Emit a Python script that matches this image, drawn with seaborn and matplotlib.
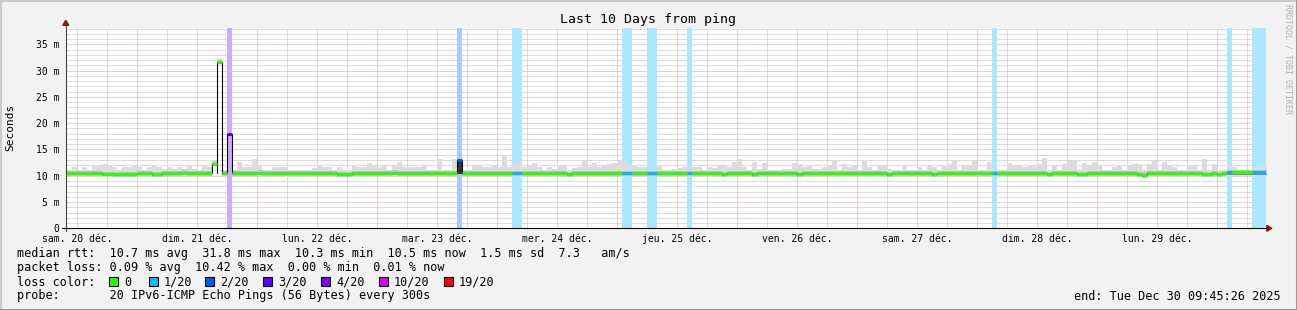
import numpy as np
import pandas as pd
import matplotlib
matplotlib.use("Agg")
import matplotlib.pyplot as plt
import seaborn as sns
from matplotlib.colors import to_rgb
from matplotlib.patches import Rectangle, Polygon
from matplotlib.lines import Line2D

# ---------------- data (hourly bins, hours since Sat 20 Dec 00:00) ----------------
first_hour = 9                      # first hourly bin starts 20 Dec 09:00
start_h = 9 + 45 / 60 + 26 / 3600   # window start 20 Dec 09:45:26
end_h = start_h + 240               # window end 30 Dec 09:45:26

smoke_max = [
    11.1, 11.1, 11.6, 11.1, 11.6, 11.1, 11.9, 11.9, 12.3, 11.9,
    11.6, 11.1, 11.6, 11.6, 11.9, 11.6, 11.1, 11.6, 12.1, 11.6,
    11.3, 11.6, 11.3, 11.6, 11.3, 11.9, 11.3, 11.1, 12.1, 11.6,
    12.8, 32.4, 11.1, 18.4, 11.1, 12.6, 11.6, 11.6, 13.2, 12.1,
    11.1, 11.1, 11.6, 11.6, 11.6, 11.1, 11.1, 11.1, 11.1, 11.1,
    11.5, 12.1, 11.6, 11.6, 11.1, 11.6, 11.1, 11.1, 11.8, 11.6,
    11.6, 12.5, 12.1, 11.6, 12.1, 11.1, 12.1, 12.7, 11.6, 11.6,
    11.6, 11.6, 11.8, 11.1, 11.1, 13.2, 11.1, 11.1, 13.2, 13.3,
    11.1, 11.1, 12.1, 12.1, 11.6, 11.6, 12.1, 11.6, 14.0, 11.6,
    12.1, 12.7, 11.6, 11.9, 12.5, 11.6, 11.1, 11.6, 11.3, 12.1,
    12.0, 11.1, 11.4, 11.6, 12.8, 11.6, 12.5, 11.6, 12.1, 12.3,
    12.5, 12.8, 12.8, 12.1, 12.1, 11.6, 11.6, 11.1, 11.1, 12.1,
    11.1, 11.1, 11.3, 11.5, 11.6, 11.6, 11.6, 11.6, 11.1, 11.6,
    11.4, 12.1, 12.1, 11.6, 12.6, 13.2, 11.6, 11.1, 12.6, 11.3,
    12.5, 11.1, 11.1, 11.1, 11.3, 11.3, 12.5, 12.3, 11.6, 12.1,
    11.3, 11.3, 11.6, 12.1, 12.9, 11.1, 12.3, 11.6, 12.1, 11.1,
    13.0, 11.6, 11.1, 11.8, 11.8, 11.3, 11.1, 11.1, 11.9, 11.1,
    11.1, 11.6, 11.1, 11.9, 11.6, 11.1, 12.1, 12.3, 12.9, 11.1,
    11.8, 12.1, 12.9, 11.1, 11.1, 12.7, 11.1, 11.1, 11.1, 12.5,
    12.1, 12.1, 11.6, 12.1, 12.1, 12.3, 13.4, 11.1, 11.8, 11.1,
    12.3, 12.8, 12.8, 11.1, 12.4, 12.1, 12.7, 12.1, 11.1, 11.1,
    11.6, 12.1, 11.1, 12.1, 12.3, 12.3, 11.1, 12.3, 12.9, 11.1,
    12.6, 11.9, 11.6, 11.1, 11.1, 12.1, 12.1, 11.1, 13.2, 11.1,
    12.3, 11.1, 11.1, 12.1, 11.6, 11.1, 11.1, 11.1, 11.6, 11.6, 11.9,
]

smoke_min = [
    9.95, 9.95, 9.95, 9.95, 9.95, 9.95, 9.95, 9.95, 9.95, 9.95,
    9.7, 9.7, 9.7, 9.7, 9.7, 9.95, 9.95, 9.95, 9.85, 9.85,
    9.95, 9.95, 9.95, 9.95, 9.95, 9.95, 9.95, 9.95, 9.95, 9.95,
    12.1, 31.5, 9.95, 17.8, 9.95, 9.95, 9.95, 9.95, 9.95, 9.95,
    9.95, 9.95, 9.95, 9.95, 9.95, 9.8, 9.95, 9.95, 9.95, 9.95,
    9.95, 9.95, 9.95, 9.95, 9.95, 9.7, 9.85, 9.85, 9.95, 9.7,
    9.95, 9.7, 9.95, 9.95, 9.95, 9.95, 9.95, 9.95, 9.95, 9.95,
    9.95, 9.95, 9.95, 9.95, 9.95, 9.95, 9.95, 9.95, 9.95, 10.4,
    9.95, 9.95, 9.95, 9.95, 9.95, 9.95, 9.95, 9.95, 9.95, 9.95,
    9.95, 9.95, 9.95, 9.95, 9.95, 9.95, 9.95, 9.95, 9.7, 9.95,
    9.95, 9.7, 9.95, 9.95, 9.95, 9.95, 9.95, 9.95, 9.95, 9.95,
    9.7, 9.95, 9.95, 9.95, 9.95, 9.95, 9.95, 9.95, 9.95, 9.95,
    9.95, 9.95, 9.95, 9.95, 9.95, 9.95, 9.95, 9.95, 9.7, 9.95,
    9.95, 9.95, 9.85, 9.7, 9.95, 9.95, 9.95, 9.95, 9.75, 9.95,
    9.95, 9.95, 9.95, 9.95, 9.95, 9.95, 9.7, 9.8, 9.95, 9.95,
    9.95, 9.95, 9.95, 9.95, 9.95, 9.7, 9.7, 9.7, 9.95, 9.95,
    9.95, 9.95, 9.7, 9.95, 9.95, 9.85, 9.95, 9.95, 9.95, 9.95,
    9.95, 9.95, 9.95, 9.95, 9.8, 9.95, 9.95, 9.95, 9.95, 9.95,
    9.95, 9.95, 9.95, 9.95, 9.95, 9.95, 9.95, 9.95, 9.95, 9.95,
    9.95, 9.95, 9.95, 9.95, 9.95, 9.95, 9.95, 9.8, 9.7, 9.95,
    9.95, 9.95, 9.95, 9.7, 9.7, 9.95, 9.95, 9.95, 9.95, 9.95,
    9.95, 9.95, 9.95, 9.95, 9.95, 9.85, 9.6, 9.95, 9.95, 9.95,
    9.95, 9.7, 9.95, 9.95, 9.95, 9.95, 9.95, 9.85, 9.75, 9.75,
    9.95, 9.8, 9.95, 9.95, 9.95, 9.95, 9.95, 9.95, 9.95, 9.95, 9.95,
]

median_rtt = [
    10.55, 10.55, 10.55, 10.55, 10.55, 10.55, 10.55, 10.55, 10.35, 10.35,
    10.35, 10.35, 10.35, 10.35, 10.35, 10.55, 10.55, 10.55, 10.35, 10.35,
    10.55, 10.55, 10.55, 10.55, 10.6, 10.55, 10.55, 10.55, 10.55, 10.55,
    12.3, 31.65, 10.55, 18.0, 10.55, 10.55, 10.55, 10.55, 10.55, 10.6,
    10.55, 10.55, 10.55, 10.55, 10.55, 10.55, 10.55, 10.55, 10.55, 10.55,
    10.55, 10.55, 10.55, 10.55, 10.55, 10.35, 10.35, 10.35, 10.55, 10.55,
    10.55, 10.55, 10.55, 10.55, 10.55, 10.55, 10.6, 10.55, 10.55, 10.55,
    10.55, 10.55, 10.55, 10.55, 10.55, 10.55, 10.55, 10.55, 10.55, 13.0,
    10.55, 10.55, 10.55, 10.55, 10.55, 10.55, 10.55, 10.55, 10.55, 10.55,
    10.55, 10.55, 10.55, 10.55, 10.55, 10.55, 10.55, 10.55, 10.55, 10.55,
    10.55, 10.35, 10.55, 10.55, 10.55, 10.55, 10.55, 10.55, 10.55, 10.55,
    10.55, 10.55, 10.55, 10.55, 10.55, 10.55, 10.55, 10.55, 10.55, 10.55,
    10.55, 10.55, 10.55, 10.55, 10.55, 10.55, 10.55, 10.55, 10.55, 10.55,
    10.55, 10.55, 10.35, 10.55, 10.55, 10.55, 10.55, 10.55, 10.35, 10.55,
    10.55, 10.55, 10.55, 10.55, 10.55, 10.55, 10.55, 10.35, 10.55, 10.55,
    10.55, 10.55, 10.55, 10.55, 10.55, 10.55, 10.55, 10.55, 10.55, 10.55,
    10.55, 10.55, 10.55, 10.55, 10.55, 10.35, 10.55, 10.55, 10.55, 10.55,
    10.55, 10.55, 10.55, 10.55, 10.35, 10.55, 10.55, 10.55, 10.55, 10.55,
    10.55, 10.55, 10.55, 10.55, 10.55, 10.55, 10.55, 10.55, 10.55, 10.55,
    10.55, 10.55, 10.55, 10.55, 10.55, 10.55, 10.55, 10.35, 10.55, 10.55,
    10.55, 10.55, 10.55, 10.35, 10.35, 10.55, 10.55, 10.55, 10.55, 10.55,
    10.55, 10.55, 10.55, 10.55, 10.55, 10.35, 10.2, 10.55, 10.55, 10.55,
    10.55, 10.55, 10.55, 10.55, 10.55, 10.55, 10.55, 10.55, 10.35, 10.35,
    10.55, 10.35, 10.55, 10.65, 10.65, 10.65, 10.65, 10.65, 10.65, 10.65, 10.65,
]

# hourly bins that lost pings (hour index, lost pings out of 20)
loss_hours = [42, 88, 99, 100, 121, 122, 126, 127, 134, 195, 242, 247, 248, 249]
loss_counts = [3, 2, 1, 1, 1, 1, 1, 1, 1, 1, 1, 1, 1, 1]
dense_hours = [88]   # bins whose pings are all packed between the floor and the median

loss_levels = [0, 1, 2, 3, 4, 10, 19]
loss_labels = ["0", "1/20", "2/20", "3/20", "4/20", "10/20", "19/20"]
loss_palette = ["#26ff00", "#00b8ff", "#0059ff", "#5e00ff", "#7e00ff", "#dd00ff", "#ff0000"]

day_labels = ["sam. 20 déc.", "dim. 21 déc.", "lun. 22 déc.", "mar. 23 déc.", "mer. 24 déc.",
              "jeu. 25 déc.", "ven. 26 déc.", "sam. 27 déc.", "dim. 28 déc.", "lun. 29 déc."]
y_ticks = [0, 5, 10, 15, 20, 25, 30, 35]
y_tick_labels = ["0", "5 m", "10 m", "15 m", "20 m", "25 m", "30 m", "35 m"]

title = "Last 10 Days from ping"
legend_rows = [
    "median rtt:  10.7 ms avg  31.8 ms max  10.3 ms min  10.5 ms now  1.5 ms sd  7.3   am/s",
    "packet loss: 0.09 % avg  10.42 % max  0.00 % min  0.01 % now",
    "loss color:",
    "probe:       20 IPv6-ICMP Echo Pings (56 Bytes) every 300s",
]
end_text = "end: Tue Dec 30 09:45:26 2025"

# ---------------- assemble ----------------
n = len(median_rtt)
hours = np.arange(first_hour, first_hour + n)
df = pd.DataFrame({"hour": hours, "median": median_rtt, "smin": smoke_min, "smax": smoke_max})
loss_map = dict(zip(loss_hours, loss_counts))
df["loss"] = [loss_map.get(h, 0) for h in df["hour"]]
color_of = dict(zip(loss_levels, loss_palette))

edges = np.append(df["hour"].values, df["hour"].values[-1] + 1)
def ext(a):
    a = np.asarray(a, dtype=float)
    return np.append(a, a[-1])

# runs of equal median + equal loss colour -> one seamless segment each
runs, run_cols = [], {}
rid = -1
prev = None
for h, m, l in zip(df["hour"], df["median"], df["loss"]):
    key = (m, l)
    if key != prev:
        rid += 1
        run_cols[rid] = color_of[l]
        runs.append({"run": rid, "x": h, "y": m})
        prev = key
    runs.append({"run": rid, "x": h + 1, "y": m})
runs_df = pd.DataFrame(runs)

# ---------------- figure ----------------
sns.set_theme(style="white")
plt.rcParams["font.family"] = ["DejaVu Sans Mono", "DejaVu Sans"]

W, H = 1297, 310
BG = "#f2f2f2"
fig = plt.figure(figsize=(W / 100, H / 100), dpi=100, facecolor=BG)

def fx(x):
    return x / W
def fy(y):
    return 1 - y / H

L, R, T, B = 65.8, 1265.8, 28.3, 228.3
ax = fig.add_axes([fx(L), fy(B), (R - L) / W, (B - T) / H])
ax.set_facecolor("white")
ax.set_xlim(start_h, end_h)
ax.set_ylim(0, (B - T) / 5.257)
for s in ax.spines.values():
    s.set_visible(False)

# grid
minor_c, major_c = "#bdbdbd", "#dc9c9c"
dot = (0, (1, 1))
for v in range(1, 39):
    if v % 5:
        ax.axhline(v, color=minor_c, lw=0.72, ls=dot, zorder=0.5)
for v in range(5, 39, 5):
    ax.axhline(v, color=major_c, lw=0.72, ls=dot, zorder=0.6)
for h in range(12, 250, 6):
    if h % 24:
        ax.axvline(h, color=minor_c, lw=0.72, ls=dot, zorder=0.5)
for h in range(24, 250, 24):
    ax.axvline(h, color=major_c, lw=0.72, ls=dot, zorder=0.6)

# loss background bands
def soft(c, a=0.33):
    r, g, b = to_rgb(c)
    return (1 - a + a * r, 1 - a + a * g, 1 - a + a * b)
for h, cnt in zip(loss_hours, loss_counts):
    ax.axvspan(h, h + 1, color=soft(color_of[cnt]), lw=0, zorder=1)

# smoke
med = df["median"].values
smin = df["smin"].values
smax = df["smax"].values
ax.fill_between(edges, ext(smin), ext(smax), step="post", color="#dcdcdc", lw=0, zorder=2)
mid_lo = np.clip(med - 0.55, smin, smax)
mid_hi = np.clip(med + 0.42, smin, smax)
ax.fill_between(edges, ext(mid_lo), ext(mid_hi), step="post", color="#c2c2c2", lw=0, zorder=2.2)
dk_lo = np.clip(med - 0.45, smin, smax)
dk_hi = np.clip(med - 0.28, smin, smax)
ax.fill_between(edges, ext(dk_lo), ext(dk_hi), step="post", color="#8a8a8a", lw=0, zorder=2.4)
for h in dense_hours:
    row = df[df["hour"] == h].iloc[0]
    ax.fill_between([h, h + 1], row["smin"], row["median"], color="#333333", lw=0, zorder=2.6)

# black connectors where the median changes (spikes outlined down to the neighbour level)
for i in range(1, n):
    if med[i] != med[i - 1]:
        ax.vlines(hours[i], min(med[i], med[i - 1]), max(med[i], med[i - 1]),
                  colors="black", lw=0.75, zorder=4)
for i in range(1, n - 1):
    if med[i] > 11.5:
        base = min(med[i - 1], med[i + 1])
        ax.vlines([hours[i], hours[i] + 1], base, med[i], colors="black", lw=0.75, zorder=4)

# median line, coloured by loss
sns.lineplot(data=runs_df, x="x", y="y", units="run", hue="run", palette=run_cols,
             estimator=None, legend=False, linewidth=2.2, ax=ax, zorder=5,
             solid_capstyle="butt")

# ticks
ax.set_xticks(np.arange(12, 240, 24))
ax.set_xticklabels(day_labels, fontsize=7)
ax.set_yticks(y_ticks)
ax.set_yticklabels(y_tick_labels, fontsize=7)
ax.tick_params(axis="both", length=0, colors="black")
ax.tick_params(axis="x", pad=4)
ax.tick_params(axis="y", pad=4.5)
ax.set_xlabel("")
ax.set_ylabel("")
ax.set_xlim(start_h, end_h)
ax.set_ylim(0, (B - T) / 5.257)

# axes lines and arrows
fig.lines.append(Line2D([fx(L), fx(L)], [fy(B + 3), fy(T - 4)], color="#444444", lw=0.8,
                        transform=fig.transFigure))
fig.lines.append(Line2D([fx(L - 4), fx(R + 2)], [fy(B), fy(B)], color="black", lw=0.8,
                        transform=fig.transFigure))
arrow_c = "#8b1a1a"
fig.patches.append(Polygon([(fx(L - 3), fy(T - 3)), (fx(L + 3), fy(T - 3)), (fx(L), fy(T - 8))],
                           closed=True, color=arrow_c, transform=fig.transFigure))
fig.patches.append(Polygon([(fx(R + 1), fy(B - 3)), (fx(R + 1), fy(B + 3)), (fx(R + 6), fy(B))],
                           closed=True, color=arrow_c, transform=fig.transFigure))

# texts
fig.text(fx(648), fy(19), title, ha="center", va="center", fontsize=9.5, color="black")
fig.text(fx(10), fy(127), "Seconds", ha="center", va="center", rotation=90, fontsize=8,
         color="black")
fig.text(fx(1288), fy(4), "RRDTOOL / TOBI OETIKER", ha="center", va="top", rotation=270,
         fontsize=6.0, color="#b0b0b0")

row_y = [254, 268, 282, 296]
for txt, yy in zip(legend_rows, row_y):
    fig.text(fx(17), fy(yy), txt, ha="left", va="center", fontsize=8.5, color="black")
fig.text(fx(1281), fy(296), end_text, ha="right", va="center", fontsize=8.5, color="black")

box_x = [109, 149, 205, 263, 321, 379, 444]
for bx, lab, col in zip(box_x, loss_labels, loss_palette):
    fig.patches.append(Rectangle((fx(bx), fy(286)), 9 / W, 9 / H, facecolor=col,
                                 edgecolor="black", lw=0.8, transform=fig.transFigure))
    fig.text(fx(bx + 15), fy(282), lab, ha="left", va="center", fontsize=8.5, color="black")

# 3D frame
fig.lines.append(Line2D([0, 1], [fy(0.5), fy(0.5)], color="#cbcbcb", lw=1.5, transform=fig.transFigure))
fig.lines.append(Line2D([fx(0.5), fx(0.5)], [0, 1], color="#cbcbcb", lw=1.5, transform=fig.transFigure))
fig.lines.append(Line2D([0, 1], [fy(H - 0.5), fy(H - 0.5)], color="#999999", lw=1.5, transform=fig.transFigure))
fig.lines.append(Line2D([fx(W - 0.5), fx(W - 0.5)], [0, 1], color="#999999", lw=1.5, transform=fig.transFigure))

fig.savefig("out.png", dpi=100, facecolor=BG)
